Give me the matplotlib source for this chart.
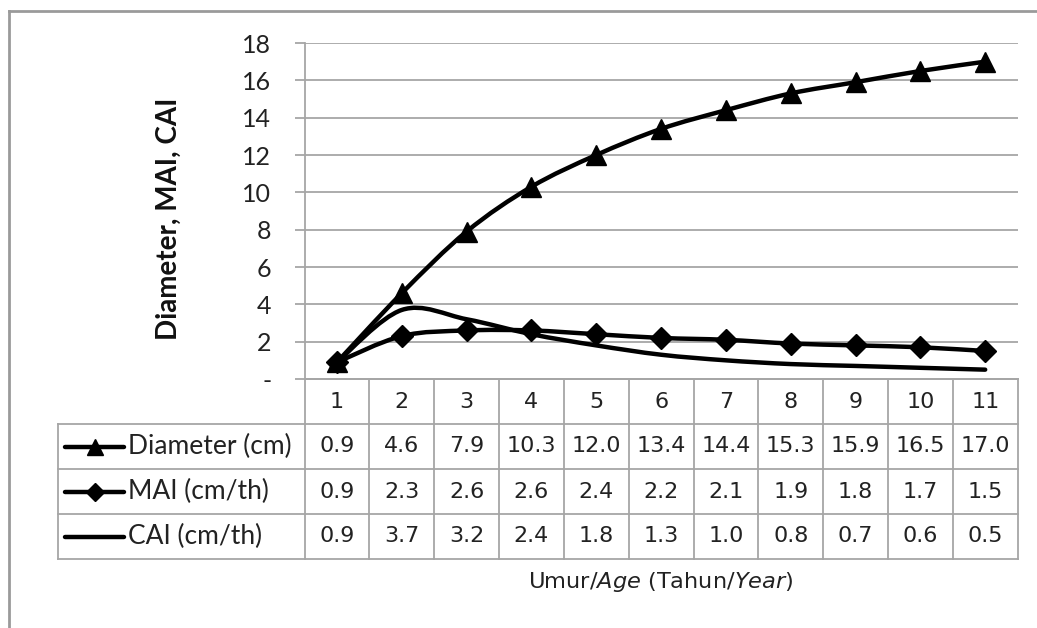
import matplotlib
matplotlib.use("Agg")
import matplotlib.pyplot as plt
from matplotlib.path import Path
from matplotlib.patches import PathPatch
from matplotlib.lines import Line2D
import matplotlib.transforms as mtransforms
import numpy as np

# ---- data ----
ages = [1, 2, 3, 4, 5, 6, 7, 8, 9, 10, 11]
diameter = [0.9, 4.6, 7.9, 10.3, 12.0, 13.4, 14.4, 15.3, 15.9, 16.5, 17.0]
mai = [0.9, 2.3, 2.6, 2.6, 2.4, 2.2, 2.1, 1.9, 1.8, 1.7, 1.5]
cai = [0.9, 3.7, 3.2, 2.4, 1.8, 1.3, 1.0, 0.8, 0.7, 0.6, 0.5]
series_names = ["Diameter (cm)", "MAI (cm/th)", "CAI (cm/th)"]
series_markers = ["^", "D", None]
y_ticks = [0, 2, 4, 6, 8, 10, 12, 14, 16, 18]
y_ticklabels = ["-", "2", "4", "6", "8", "10", "12", "14", "16", "18"]

plt.rcParams["mathtext.fontset"] = "dejavusans"

W, H = 1037, 628
fig = plt.figure(figsize=(W / 100, H / 100), dpi=100)

def fx(px):
    return px / W

def fy(py):
    return 1 - py / H

ax_l, ax_r, ax_t, ax_b = 304.6, 1017.6, 43, 379
ax = fig.add_axes([fx(ax_l), fy(ax_b), fx(ax_r - ax_l), (ax_b - ax_t) / H])
ax.set_xlim(0.5, 11.5)
ax.set_ylim(0, 18)

grid_c = "#a6a6a6"
for s in ["top", "right"]:
    ax.spines[s].set_visible(False)
for s in ["left", "bottom"]:
    ax.spines[s].set_color(grid_c)
    ax.spines[s].set_linewidth(1.3)
ax.set_yticks(y_ticks)
ax.set_yticklabels(y_ticklabels, fontfamily="Lato", fontsize=18, color="#222222")
ax.tick_params(axis="y", length=7, width=1.3, color=grid_c, pad=17)
ax.set_xticks([])
ax.yaxis.grid(True, color=grid_c, lw=1.3)
ax.set_axisbelow(True)


def smooth_path(xs, ys):
    pts = np.column_stack([xs, ys]).astype(float)
    n = len(pts)
    verts = [pts[0]]
    codes = [Path.MOVETO]
    for i in range(n - 1):
        p0 = pts[i - 1] if i > 0 else pts[i]
        p1 = pts[i]
        p2 = pts[i + 1]
        p3 = pts[i + 2] if i + 2 < n else pts[i + 1]
        c1 = p1 + (p2 - p0) / 6.0
        c2 = p2 - (p3 - p1) / 6.0
        verts += [c1, c2, p2]
        codes += [Path.CURVE4] * 3
    return Path(verts, codes)


all_series = [diameter, mai, cai]
ms_map = {"^": 14, "D": 11}
for vals, mk in zip(all_series, series_markers):
    patch = PathPatch(smooth_path(ages, vals), fill=False, lw=3.2, edgecolor="black",
                      capstyle="round", joinstyle="round", zorder=3)
    ax.add_patch(patch)
    if mk:
        ax.plot(ages, vals, ls="none", marker=mk, ms=ms_map[mk], color="black", zorder=4)

# ---- data table ----
bt = mtransforms.blended_transform_factory(ax.transData, fig.transFigure)
tbl_left = 58
row_edges = [379, 424, 469, 514, 559]
lc = grid_c
lw_t = 1.3
for k, ry in enumerate(row_edges):
    x0 = ax_l if k == 0 else tbl_left
    fig.add_artist(Line2D([fx(x0), fx(ax_r)], [fy(ry), fy(ry)], color=lc, lw=lw_t))
for xb in np.arange(0.5, 12.0, 1.0):
    ax.add_line(Line2D([xb, xb], [fy(row_edges[0]), fy(row_edges[-1])], transform=bt,
                       color=lc, lw=lw_t, clip_on=False))
fig.add_artist(Line2D([fx(tbl_left), fx(tbl_left)], [fy(row_edges[1]), fy(row_edges[-1])],
                      color=lc, lw=lw_t))

hy = fy((row_edges[0] + row_edges[1]) / 2)
for a in ages:
    ax.text(a, hy, str(a), transform=bt, ha="center", va="center",
            fontfamily="DejaVu Sans", fontsize=16, color="#222222")

for r, (name, vals, mk) in enumerate(zip(series_names, all_series, series_markers)):
    cy = fy((row_edges[r + 1] + row_edges[r + 2]) / 2)
    for a, v in zip(ages, vals):
        ax.text(a, cy, f"{v:.1f}", transform=bt, ha="center", va="center",
                fontfamily="DejaVu Sans", fontsize=16, color="#222222")
    fig.add_artist(Line2D([fx(65), fx(124)], [cy, cy], color="black", lw=3.2,
                          solid_capstyle="round"))
    if mk:
        fig.add_artist(Line2D([fx(94.5)], [cy], ls="none", marker=mk, ms=ms_map[mk] - 2,
                              color="black"))
    fig.text(fx(128), cy, name, ha="left", va="center", fontfamily="Lato",
             fontsize=19, color="#222222")

# axis titles
fig.text(fx(661), fy(582), r"Umur/$\mathit{Age}$ (Tahun/$\mathit{Year}$)", ha="center",
         va="center", fontfamily="DejaVu Sans", fontsize=16.2, color="#222222")
fig.text(fx(169), fy(219), "Diameter, MAI, CAI", rotation=90, ha="center", va="center",
         fontfamily="Lato", fontweight="bold", fontsize=20, color="#111111")

# outer chart border (top and left visible)
bc = "#9a9a9a"
fig.add_artist(Line2D([fx(9), fx(W + 5)], [fy(10.5), fy(10.5)], color=bc, lw=2))
fig.add_artist(Line2D([fx(9), fx(9)], [fy(10.5), fy(H + 5)], color=bc, lw=2))

fig.savefig("out.png", dpi=100)
